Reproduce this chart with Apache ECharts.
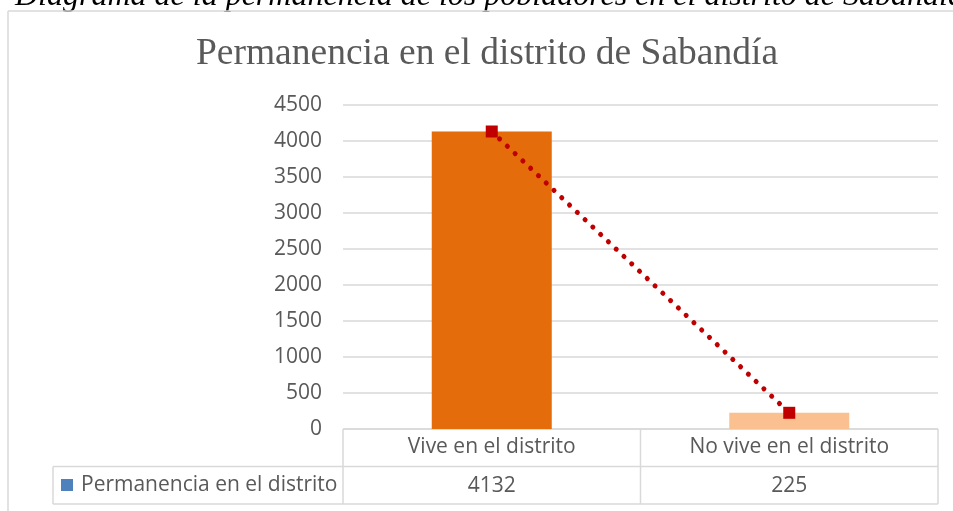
<!DOCTYPE html>
<html>
<head>
<meta charset="utf-8">
<script src="https://cdn.jsdelivr.net/npm/echarts@6/dist/echarts.min.js"></script>
<style>
  html, body { margin: 0; padding: 0; background: #fff; }
  #chart { width: 953px; height: 511px; }
</style>
</head>
<body>
<div id="chart"></div>
<script>
// Population of Sabandía by permanence in the district
const categories = ['Vive en el distrito', 'No vive en el distrito'];
const values = [4132, 225];
const barColors = ['#E46C0A', '#FAC090'];
const seriesName = 'Permanencia en el distrito';
const yTicks = { min: 0, max: 4500, interval: 500 };

const chart = echarts.init(document.getElementById('chart'), null, { renderer: 'canvas' });

// plot area
const G = { left: 343, right: 938, top: 105, bottom: 429 };
const rowH = 37.5;
const tableLeft = 53;
const lineColor = '#D9D9D9';
const textColor = '#595959';
const sans = '"Open Sans", "Noto Sans", sans-serif';
const serif = '"Liberation Serif", "DejaVu Serif", serif';
const fs = 21;

const colW = (G.right - G.left) / categories.length;
const tableLines = [];
const hLine = (x1, x2, y) => tableLines.push({ type: 'line', shape: { x1, y1: y, x2, y2: y }, style: { stroke: lineColor, lineWidth: 1.5 }, silent: true });
const vLine = (x, y1, y2) => tableLines.push({ type: 'line', shape: { x1: x, y1, x2: x, y2 }, style: { stroke: lineColor, lineWidth: 1.5 }, silent: true });
hLine(G.left, G.right, G.bottom);
hLine(tableLeft, G.right, G.bottom + rowH);
hLine(tableLeft, G.right, G.bottom + 2 * rowH);
for (let i = 0; i <= categories.length; i++) vLine(G.left + i * colW, G.bottom, G.bottom + 2 * rowH);
vLine(tableLeft, G.bottom + rowH, G.bottom + 2 * rowH);

chart.setOption({
  animation: false,
  backgroundColor: '#fff',
  grid: { left: G.left, right: 953 - G.right, top: G.top, bottom: 511 - G.bottom },
  xAxis: [
    {
      type: 'category',
      data: categories,
      axisLine: { show: false },
      axisTick: { show: false },
      axisLabel: { color: textColor, fontFamily: sans, fontSize: fs, margin: 8 }
    },
    {
      type: 'category',
      position: 'bottom',
      offset: rowH,
      data: values.map(String),
      axisLine: { show: false },
      axisTick: { show: false },
      axisLabel: { color: textColor, fontFamily: sans, fontSize: fs, margin: 9 }
    }
  ],
  yAxis: {
    type: 'value',
    min: yTicks.min,
    max: yTicks.max,
    interval: yTicks.interval,
    axisLine: { show: false },
    axisTick: { show: false },
    axisLabel: { color: textColor, fontFamily: sans, fontSize: fs, margin: 21, formatter: v => String(v) },
    splitLine: { lineStyle: { color: lineColor, width: 1.5 } }
  },
  legend: {
    left: 61,
    top: G.bottom + rowH + 8,
    itemWidth: 12,
    itemHeight: 12,
    itemGap: 0,
    icon: 'rect',
    padding: 0,
    textStyle: { color: textColor, fontFamily: sans, fontSize: fs, padding: [0, 0, 0, 3] },
    data: [{ name: seriesName, itemStyle: { color: '#4F81BD' } }]
  },
  series: [
    {
      name: seriesName,
      type: 'bar',
      barWidth: 120,
      data: values.map((v, i) => ({ value: v, itemStyle: { color: barColors[i] } }))
    },
    {
      name: 'Tendencia',
      type: 'line',
      data: values,
      symbol: 'rect',
      symbolSize: 12,
      itemStyle: { color: '#C00000' },
      lineStyle: { color: '#C00000', width: 5, type: [0.1, 10.6], cap: 'round' },
      z: 3
    }
  ],
  graphic: [
    {
      type: 'text',
      x: 15, y: -3,
      style: {
        text: 'Diagrama de la permanencia de los pobladores en el distrito de Sabandía',
        font: 'italic 32px ' + serif,
        fill: '#000',
        verticalAlign: 'middle'
      },
      silent: true
    },
    { type: 'line', shape: { x1: 8, y1: 11, x2: 953, y2: 11 }, style: { stroke: lineColor, lineWidth: 1.5 }, silent: true },
    { type: 'line', shape: { x1: 8, y1: 11, x2: 8, y2: 511 }, style: { stroke: lineColor, lineWidth: 1.5 }, silent: true },
    {
      type: 'text',
      x: 487, y: 54,
      style: {
        text: 'Permanencia en el distrito de Sabandía',
        font: '37.5px ' + serif,
        fill: textColor,
        align: 'center',
        verticalAlign: 'middle'
      },
      silent: true
    },
    ...tableLines
  ]
});
</script>
</body>
</html>
